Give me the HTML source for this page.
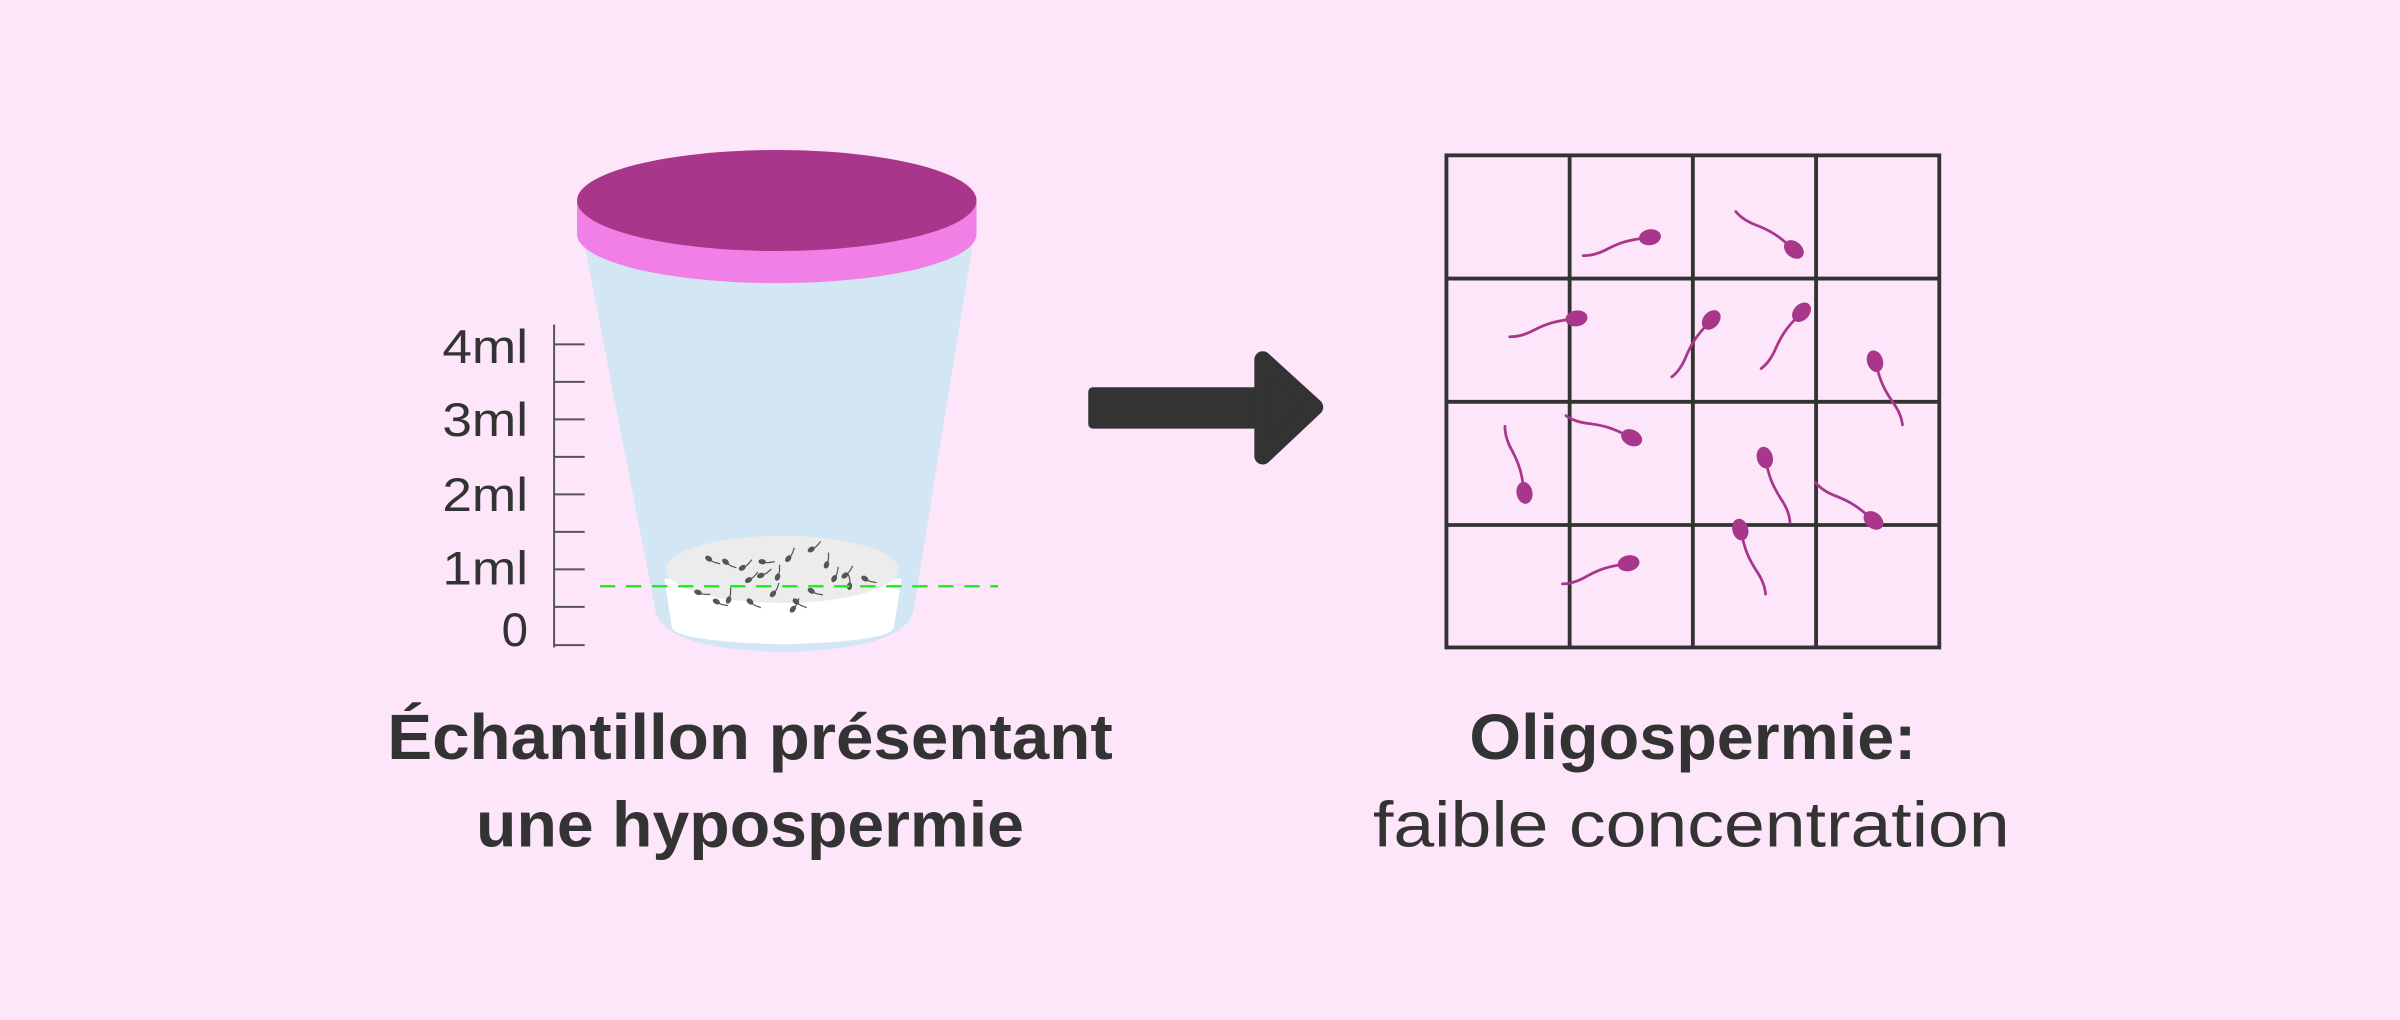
<!DOCTYPE html>
<html><head><meta charset="utf-8"><style>
html,body{margin:0;padding:0;background:#fde6f9;}
svg{display:block;}
</style></head><body>
<svg width="2400" height="1020" viewBox="0 0 1568 666.4" xmlns="http://www.w3.org/2000/svg">
<defs>
<g id="sp">
<path d="M-4,0 C-14,-0.5 -20,0.5 -28,3 C-35,5.5 -40,6 -45,5" fill="none" stroke="#a8368a" stroke-width="1.8" stroke-linecap="round"/>
<ellipse cx="0" cy="0" rx="7.2" ry="5.2" fill="#a8368a"/>
</g>
<g id="ss">
<path d="M-1.5,0 C-4,-0.5 -6,1 -8,1.5" fill="none" stroke="#555" stroke-width="0.8"/>
<ellipse cx="0" cy="0" rx="2.5" ry="1.7" fill="#555"/>
</g>
</defs>
<rect width="1568" height="666.4" fill="#fde6f9"/>

<g stroke="#555" stroke-width="1.3">
<line x1="362" y1="212" x2="362" y2="423"/>
<line x1="362" y1="225" x2="382" y2="225"/>
<line x1="362" y1="249.5" x2="382" y2="249.5"/>
<line x1="362" y1="274" x2="382" y2="274"/>
<line x1="362" y1="298.5" x2="382" y2="298.5"/>
<line x1="362" y1="323" x2="382" y2="323"/>
<line x1="362" y1="347.5" x2="382" y2="347.5"/>
<line x1="362" y1="372" x2="382" y2="372"/>
<line x1="362" y1="396.5" x2="382" y2="396.5"/>
<line x1="362" y1="421.5" x2="382" y2="421.5"/>
</g>
<g font-family="Liberation Sans, sans-serif" font-size="31" fill="#333" text-anchor="end">
<text x="345" y="237" textLength="56" lengthAdjust="spacingAndGlyphs">4ml</text>
<text x="345" y="285" textLength="56" lengthAdjust="spacingAndGlyphs">3ml</text>
<text x="345" y="334" textLength="56" lengthAdjust="spacingAndGlyphs">2ml</text>
<text x="345" y="382" textLength="56" lengthAdjust="spacingAndGlyphs">1ml</text>
<text x="345" y="422">0</text>
</g>

<path d="M380,150 L637,150 L597,398 Q593,424 512,426 Q431,424 428,398 Z" fill="#d3e6f3"/>
<path d="M377,131 L638,131 L638,153 A130.5,32 0 0 1 377,153 Z" fill="#f07fe6"/>
<ellipse cx="507.5" cy="131" rx="130.5" ry="33" fill="#a8368a"/>
<path d="M434,378 L439,410 Q442,419 512,421 Q582,419 584,410 L589,378 Z" fill="#ffffff"/>
<ellipse cx="511" cy="372" rx="76" ry="22" fill="#ececec"/>
<g>
<use href="#ss" transform="translate(463,365) rotate(215)"/>
<use href="#ss" transform="translate(474,367) rotate(220)"/>
<use href="#ss" transform="translate(485,371) rotate(150)"/>
<use href="#ss" transform="translate(489,379) rotate(150)"/>
<use href="#ss" transform="translate(497,376) rotate(160)"/>
<use href="#ss" transform="translate(508,377) rotate(110)"/>
<use href="#ss" transform="translate(515,365) rotate(130)"/>
<use href="#ss" transform="translate(530,359) rotate(150)"/>
<use href="#ss" transform="translate(540,369) rotate(110)"/>
<use href="#ss" transform="translate(545,378) rotate(120)"/>
<use href="#ss" transform="translate(552,376) rotate(140)"/>
<use href="#ss" transform="translate(565,378) rotate(210)"/>
<use href="#ss" transform="translate(456,387) rotate(200)"/>
<use href="#ss" transform="translate(468,393) rotate(210)"/>
<use href="#ss" transform="translate(476,392) rotate(110)"/>
<use href="#ss" transform="translate(490,393) rotate(220)"/>
<use href="#ss" transform="translate(505,388) rotate(130)"/>
<use href="#ss" transform="translate(520,393) rotate(220)"/>
<use href="#ss" transform="translate(530,386) rotate(210)"/>
<use href="#ss" transform="translate(518,398) rotate(130)"/>
<use href="#ss" transform="translate(555,383) rotate(95)"/>
<use href="#ss" transform="translate(498,367) rotate(190)"/>
</g>
<line x1="392" y1="383" x2="652" y2="383" stroke="#22ee22" stroke-width="1.6" stroke-dasharray="10,7"/>

<rect x="711" y="253" width="118" height="27" rx="3" fill="#333"/>
<polygon points="825,235 859,266 825,298" fill="#333" stroke="#333" stroke-width="11" stroke-linejoin="round"/>

<g stroke="#333" stroke-width="2.5" fill="none">
<rect x="945" y="101.5" width="322" height="321.5"/>
<line x1="1025.5" y1="101.5" x2="1025.5" y2="423"/>
<line x1="1106" y1="101.5" x2="1106" y2="423"/>
<line x1="1186.5" y1="101.5" x2="1186.5" y2="423"/>
<line x1="945" y1="182" x2="1267" y2="182"/>
<line x1="945" y1="262.5" x2="1267" y2="262.5"/>
<line x1="945" y1="343" x2="1267" y2="343"/>
</g>
<g>
<use href="#sp" transform="translate(1078,155) rotate(-9)"/>
<use href="#sp" transform="translate(1172,163) rotate(39.5)"/>
<use href="#sp" transform="translate(1030,208) rotate(-9)"/>
<use href="#sp" transform="translate(1118,209) rotate(-49)"/>
<use href="#sp" transform="translate(1177,204) rotate(-48)"/>
<use href="#sp" transform="translate(1225,236) rotate(-107)"/>
<use href="#sp" transform="translate(996,322) rotate(80)"/>
<use href="#sp" transform="translate(1066,286) rotate(25)"/>
<use href="#sp" transform="translate(1153,299) rotate(-105)"/>
<use href="#sp" transform="translate(1224,340) rotate(39.5)"/>
<use href="#sp" transform="translate(1137,346) rotate(-105)"/>
<use href="#sp" transform="translate(1064,368) rotate(-11)"/>
</g>

<g font-family="Liberation Sans, sans-serif" fill="#333" text-anchor="middle">
<text x="490" y="496" font-size="42" font-weight="bold" textLength="474" lengthAdjust="spacingAndGlyphs">Échantillon présentant</text>
<text x="490" y="553" font-size="42" font-weight="bold" textLength="358" lengthAdjust="spacingAndGlyphs">une hypospermie</text>
<text x="1106" y="496" font-size="42" font-weight="bold" textLength="292" lengthAdjust="spacingAndGlyphs">Oligospermie:</text>
<text x="1105" y="553" font-size="42" textLength="416" lengthAdjust="spacingAndGlyphs">faible concentration</text>
</g>
</svg>
</body></html>
